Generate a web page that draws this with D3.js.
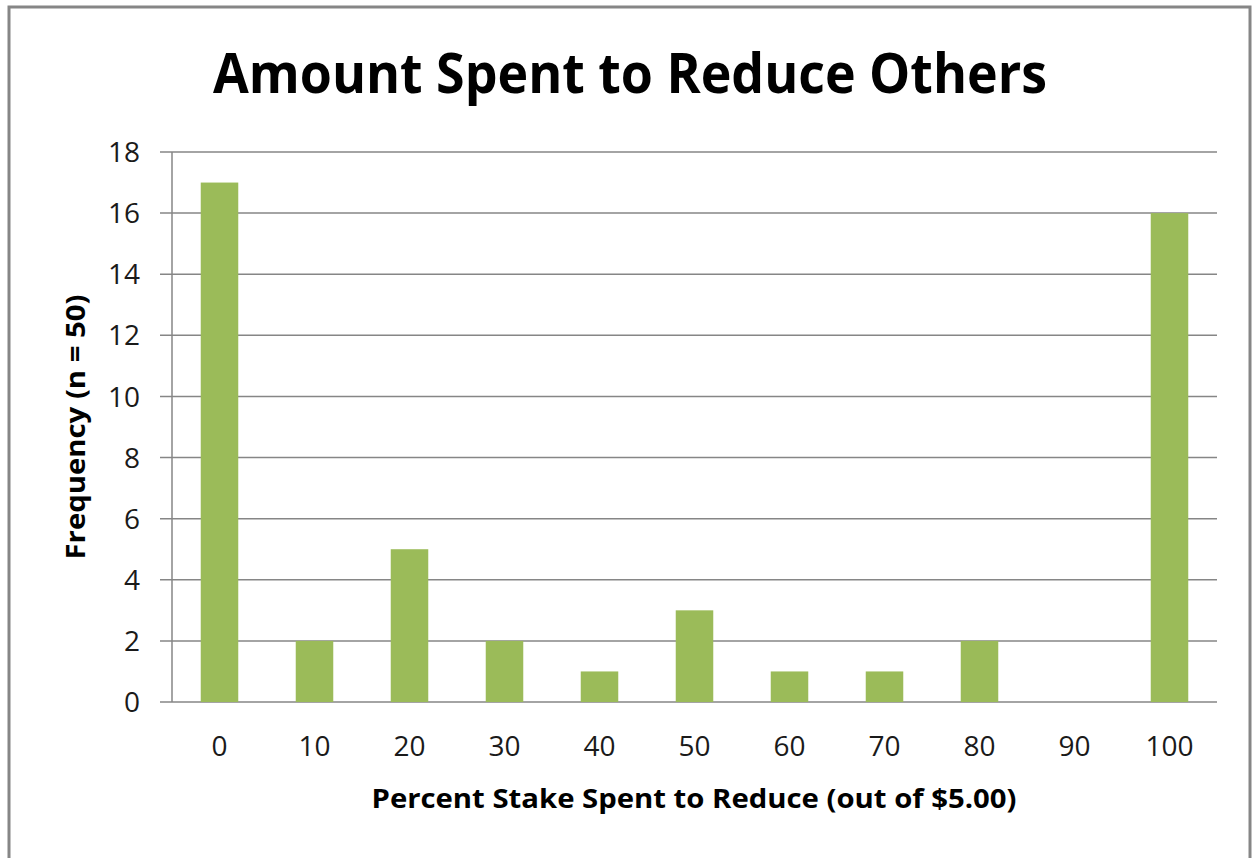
<!DOCTYPE html>
<html><head><meta charset="utf-8">
<script src="https://cdn.jsdelivr.net/npm/d3@7"></script>
<style>body{margin:0;background:#fff}svg{display:block}</style>
</head><body>
<script>
const categories = ["0","10","20","30","40","50","60","70","80","90","100"];
const frequency = [17,2,5,2,1,3,1,1,2,0,16];
const yTicks = [0,2,4,6,8,10,12,14,16,18];
const title = "Amount Spent to Reduce Others";
const xTitle = "Percent Stake Spent to Reduce (out of $5.00)";
const yTitle = "Frequency (n = 50)";

const W = 1252, H = 858;
const svg = d3.select("body").append("svg").attr("width", W).attr("height", H);
svg.append("rect").attr("x", 9).attr("y", 7).attr("width", 1241).attr("height", 860)
  .attr("fill", "#fff").attr("stroke", "#868686").attr("stroke-width", 3);

const m = {left: 172, right: 1217, top: 152, bottom: 702};
const x = d3.scaleBand().domain(categories).range([m.left, m.right]).paddingInner(0.605).paddingOuter(0.3025);
const y = d3.scaleLinear().domain([0, 18]).range([m.bottom, m.top]);
const font = "'Open Sans', sans-serif";

// gridlines
svg.append("g").selectAll("line").data(yTicks).join("line")
  .attr("x1", m.left - 12).attr("x2", m.right)
  .attr("y1", d => y(d)).attr("y2", d => y(d))
  .attr("stroke", "#868686").attr("stroke-width", 1.5);
// y axis line
svg.append("line").attr("x1", m.left).attr("x2", m.left).attr("y1", m.top).attr("y2", m.bottom)
  .attr("stroke", "#868686").attr("stroke-width", 1.5);

// bars
svg.append("g").selectAll("rect").data(categories).join("rect")
  .attr("x", d => x(d)).attr("width", x.bandwidth())
  .attr("y", (d, i) => y(frequency[i])).attr("height", (d, i) => y(0) - y(frequency[i]))
  .attr("fill", "#9BBB59");

// y tick labels
svg.append("g").selectAll("text").data(yTicks).join("text")
  .attr("x", 140).attr("y", d => y(d)).attr("dy", "0.36em")
  .attr("text-anchor", "end").attr("font-family", font).attr("font-size", 28).attr("fill", "#1a1a1a")
  .text(d => d);
// x tick labels
svg.append("g").selectAll("text").data(categories).join("text")
  .attr("x", d => x(d) + x.bandwidth() / 2).attr("y", 756)
  .attr("text-anchor", "middle").attr("font-family", font).attr("font-size", 28).attr("fill", "#1a1a1a")
  .text(d => d);

svg.append("text").attr("x", 630).attr("y", 93).attr("text-anchor", "middle")
  .attr("font-family", font).attr("font-weight", "bold").attr("font-size", 56).attr("fill", "#000")
  .attr("textLength", 834).attr("lengthAdjust", "spacingAndGlyphs")
  .text(title);
svg.append("text").attr("x", 694).attr("y", 808).attr("text-anchor", "middle")
  .attr("font-family", font).attr("font-weight", "bold").attr("font-size", 27).attr("fill", "#000")
  .attr("textLength", 645).attr("lengthAdjust", "spacingAndGlyphs")
  .text(xTitle);
svg.append("text").attr("transform", "translate(85,427) rotate(-90)").attr("text-anchor", "middle")
  .attr("font-family", font).attr("font-weight", "bold").attr("font-size", 27).attr("fill", "#000")
  .attr("textLength", 265).attr("lengthAdjust", "spacingAndGlyphs")
  .text(yTitle);
</script>
</body></html>
